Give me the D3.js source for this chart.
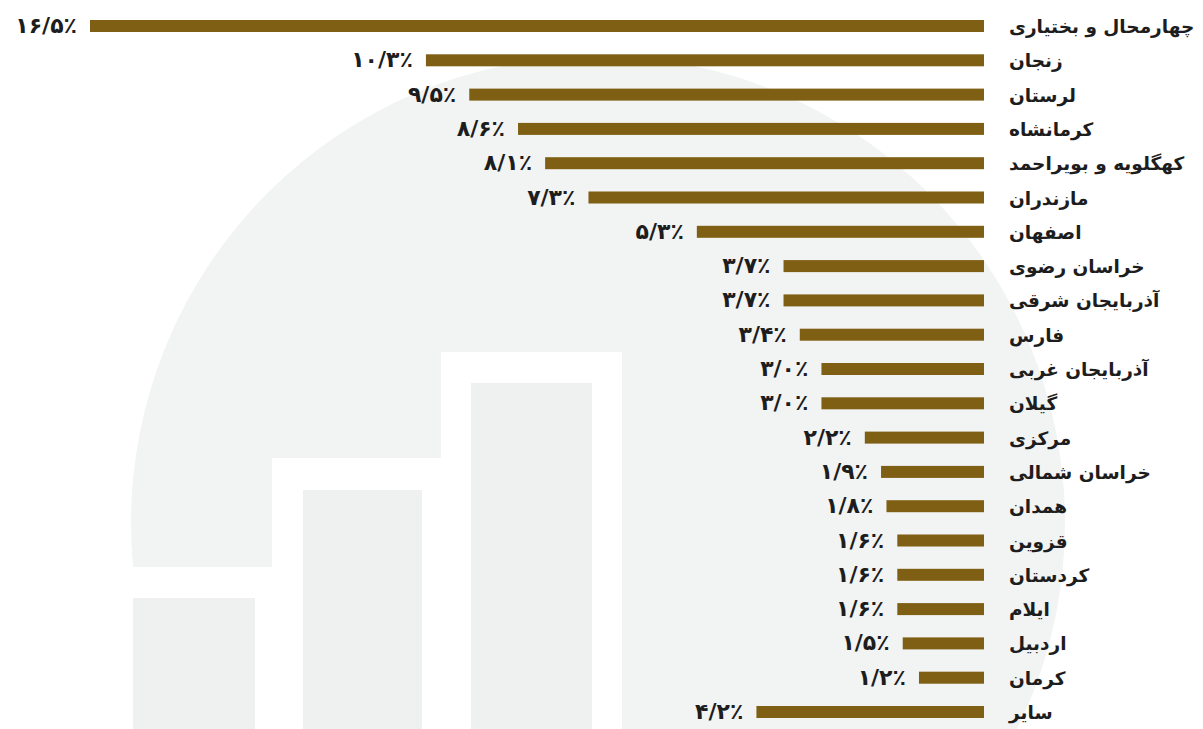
<!DOCTYPE html>
<html>
<head>
<meta charset="utf-8">
<script src="https://cdn.jsdelivr.net/npm/d3@7"></script>
<style>
  html, body { margin: 0; padding: 0; background: #ffffff; }
  #provinces { width: 1203px; height: 729px; }
</style>
</head>
<body>
<div id="provinces"></div>
<script>
'use strict'

// provinces, top to bottom
const provinces = [
    "چهارمحال و بختیاری", "زنجان", "لرستان", "کرمانشاه", "کهگلویه و بویراحمد",
    "مازندران", "اصفهان", "خراسان رضوی", "آذربایجان شرقی", "فارس",
    "آذربایجان غربی", "گیلان", "مرکزی", "خراسان شمالی", "همدان",
    "قزوین", "کردستان", "ایلام", "اردبیل", "کرمان", "سایر"
]

// share, percent
const shares = [
    16.5, 10.3, 9.5, 8.6, 8.1,
    7.3, 5.3, 3.7, 3.7, 3.4,
    3.0, 3.0, 2.2, 1.9, 1.8,
    1.6, 1.6, 1.6, 1.5, 1.2, 4.2
]

let chart = ((selector = '#provinces') => {

    ////////////////////////////////////
    //////////// svg setup /////////////
    ////////////////////////////////////

    const svgWidth = 1203
    const svgHeight = 729

    const svg = d3.select(selector)
        .append('svg')
        .attr('width', svgWidth)
        .attr('height', svgHeight)
        .attr('viewBox', `0 0 ${svgWidth} ${svgHeight}`)

    ////////////////////////////////////
    ///////// background mark //////////
    ////////////////////////////////////

    const bg = svg.append('g').attr('class', 'watermark')

    bg.append('circle')
        .attr('cx', 598)
        .attr('cy', 523)
        .attr('r', 467)
        .style('fill', '#f2f3f3')

    // white stair outline of the icon
    bg.append('path')
        .attr('d', 'M100,567 L272,567 L272,458 L441,458 L441,352 L622,352 L622,740 L100,740 Z')
        .style('fill', '#ffffff')

    const iconBars = [[133, 255, 598], [303, 422, 490], [471, 592, 383]]
    bg.selectAll('rect.icon')
        .data(iconBars)
        .join('rect')
        .attr('class', 'icon')
        .attr('x', d => d[0])
        .attr('y', d => d[2])
        .attr('width', d => d[1] - d[0])
        .attr('height', d => svgHeight - d[2] + 5)
        .style('fill', '#eff0f0')

    ////////////////////////////////////
    //////////// Scales ////////////////
    ////////////////////////////////////

    const xScale = d3.scaleLinear()
        .domain([0, 16.5])
        .range([984, 90])

    const yScale = d3.scalePoint()
        .domain(provinces)
        .range([26, 712])

    const persianDigits = '۰۱۲۳۴۵۶۷۸۹'
    const fmt = v => v.toFixed(1).replace('.', '/').replace(/[0-9]/g, c => persianDigits[+c]) + '٪'

    const rows = provinces.map((p, i) => ({ name: p, value: shares[i] }))

    ////////////////////////////////////
    //////////// add to DOM ////////////
    ////////////////////////////////////

    const barH = 12

    svg.selectAll('rect.bar')
        .data(rows)
        .join('rect')
        .attr('class', 'bar')
        .attr('x', d => xScale(d.value))
        .attr('y', d => yScale(d.name) - barH / 2)
        .attr('width', d => xScale(0) - xScale(d.value))
        .attr('height', barH)
        .style('fill', '#7e5f13')

    svg.selectAll('text.value')
        .data(rows)
        .join('text')
        .attr('class', 'value')
        .attr('x', d => xScale(d.value) - 13)
        .attr('y', d => yScale(d.name) + 7)
        .attr('text-anchor', 'end')
        .style('font-family', '"DejaVu Sans", sans-serif')
        .style('font-weight', 'bold')
        .style('font-size', '22px')
        .style('letter-spacing', '0.5px')
        .style('fill', '#1d1d1d')
        .text(d => fmt(d.value))

    svg.selectAll('text.name')
        .data(rows)
        .join('text')
        .attr('class', 'name')
        .attr('x', 1009)
        .attr('y', d => yScale(d.name) + 7)
        .attr('text-anchor', 'start')
        .style('font-family', '"DejaVu Sans", sans-serif')
        .style('font-weight', 'bold')
        .style('font-size', '18.5px')
        .style('fill', '#1d1d1d')
        .text(d => d.name)

})

chart()
</script>
</body>
</html>
